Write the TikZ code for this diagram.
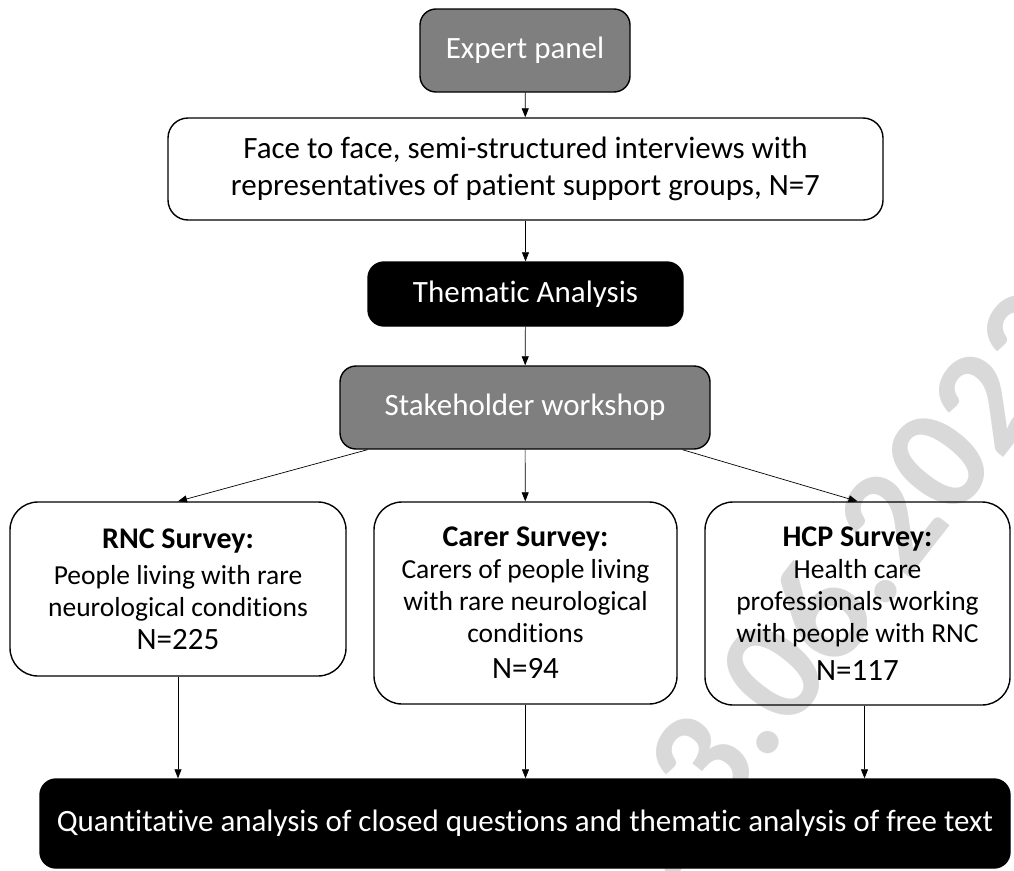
\documentclass[tikz,border=0pt]{standalone}
\usepackage{fontspec}
\setmainfont{Carlito}[Ligatures=NoCommon]
\usetikzlibrary{arrows.meta}
\definecolor{panelgrey}{RGB}{127,127,127}
\definecolor{stampgrey}{RGB}{217,217,217}

\begin{document}
\begin{tikzpicture}[x=1pt, y=-1pt,
  every node/.style={font=\fontsize{31}{37}\selectfont, align=center, inner sep=0pt},
  box/.style={draw, line width=1.4pt, rounded corners=16pt},
  greybox/.style={box, fill=panelgrey, text=white},
  blackbox/.style={box, fill=black, text=white},
  survey/.style={box, rounded corners=28pt, font=\fontsize{27.5}{32}\selectfont},
  arr/.style={-{Triangle[length=9pt,width=7pt]}, line width=0.7pt}]
  \useasboundingbox (0,0) rectangle (1014,870);

  % Date stamp (behind)
  \node[font=\fontsize{150}{150}\selectfont\bfseries, text=stampgrey, rotate=52] (stamp) at (842,582) {23.06.2023};

  % Top of the flow
  \node[greybox, minimum width=210pt, minimum height=83pt] (expert) at (525,50.5) {Expert panel};
  \node[box, rounded corners=20pt, minimum width=715pt, minimum height=102pt] (interviews) at (525.5,169)
    {Face to face, semi-structured interviews with\\ representatives of patient support groups, N=7};
  \node[blackbox, minimum width=315pt, minimum height=64pt] (thematic) at (525.5,294) {Thematic Analysis};
  \node[greybox, minimum width=370pt, minimum height=83pt] (stakeholder) at (525,407.5) {Stakeholder workshop};

  % Surveys
  \node[survey, minimum width=336pt, minimum height=174pt] (rnc) at (178,589)
    {{\fontsize{30}{32}\selectfont\bfseries RNC Survey:}\\[4pt] People living with rare\\ neurological conditions\\[1pt] {\fontsize{31}{33}\selectfont N=225}};
  \node[survey, minimum width=303pt, minimum height=202pt] (carer) at (525.5,603)
    {{\fontsize{30}{32}\selectfont\bfseries Carer Survey:}\\ Carers of people living\\ with rare neurological\\ conditions\\[4pt] {\fontsize{31}{33}\selectfont N=94}};
  \node[survey, minimum width=305pt, minimum height=203pt] (hcp) at (857.5,603.5)
    {{\fontsize{30}{32}\selectfont\bfseries HCP Survey:}\\ Health care\\ professionals working\\ with people with RNC\\[6pt] {\fontsize{31}{33}\selectfont N=117}};

  % Analysis (bottom)
  \node[blackbox, minimum width=970pt, minimum height=89pt] (analysis) at (525,823.5)
    {Quantitative analysis of closed questions and thematic analysis of free text};

  % Connectors
  \draw[arr] (expert) -- (interviews);
  \draw[arr] (interviews) -- (thematic);
  \draw[arr] (thematic) -- (stakeholder);
  \draw[arr] (stakeholder.195) -- (rnc.north);
  \draw[arr] (stakeholder) -- (carer);
  \draw[arr] (stakeholder.345.3) -- (hcp.north);
  \draw[arr] (rnc.south) -- (rnc.south |- analysis.north);
  \draw[arr] (carer.south) -- (carer.south |- analysis.north);
  \draw[arr] ([xshift=7pt]hcp.south) -- ([xshift=7pt]hcp.south |- analysis.north);
\end{tikzpicture}
\end{document}
